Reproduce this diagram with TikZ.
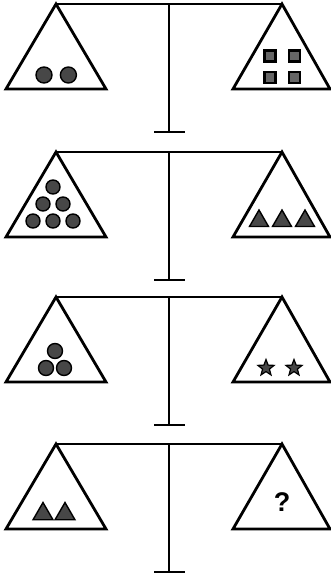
\documentclass[tikz,border=0pt]{standalone}
\usepackage{fontspec}
\setsansfont{Liberation Sans}
\usetikzlibrary{shapes.geometric,positioning}
\tikzset{
  beam/.style={line width=2.8pt},
  pan/.style={line width=2.8pt,line join=miter},
  ball/.style={circle,draw=black,line width=1.4pt,fill=black!72,inner sep=0pt,minimum size=15pt},
  block/.style={rectangle,draw=black,line width=2.2pt,fill=black!60,inner sep=0pt,minimum size=11pt},
  pyr/.style={regular polygon,regular polygon sides=3,draw=black,line width=1.4pt,fill=black!72,
              inner sep=0pt,minimum size=22pt},
  starry/.style={draw=black,line width=1.2pt,line join=miter,fill=black!72},
  mark text/.style={font=\sffamily\bfseries,scale=2.7},
}
\begin{document}
\begin{tikzpicture}[x=1pt,y=-1pt]
\useasboundingbox (0,0) rectangle (331,574);
% the four scales
\foreach \s/\y in {1/4,2/152,3/297,4/444}{
  \coordinate (l\s) at (56,\y);
  \coordinate (r\s) at (282,\y);
  \coordinate (p\s) at (169,\y);
  \draw[beam] (l\s) -- (r\s);
  \draw[pan] (l\s) -- ++(-50,85) -- ++(100,0) -- cycle;
  \draw[pan] (r\s) -- ++(-49,85) -- ++(97,0) -- cycle;
  \draw[beam] (p\s) -- ++(0,128) coordinate (f\s);
  \draw[beam] ([xshift=-15pt]f\s) -- ([xshift=16pt]f\s);
}
% scale 1
\node[ball,minimum size=16pt] (a1) at (44,75) {};
\node[ball,minimum size=16pt,right=7pt of a1] (a2) {};
\node[block] (q1) at (270,56) {};
\node[block,right=11pt of q1] (q2) {};
\node[block,below=8pt of q1] (q3) {};
\node[block,right=11pt of q3] (q4) {};
% scale 2
\node[ball,minimum size=14pt] (b1) at (53,187) {};
\node[ball,minimum size=14pt] (b2) at (43,204) {};
\node[ball,minimum size=14pt] (b3) at (63,204) {};
\node[ball,minimum size=14pt] (b4) at (33,221) {};
\node[ball,minimum size=14pt] (b5) at (53,221) {};
\node[ball,minimum size=14pt] (b6) at (73,221) {};
\node[pyr] (t1) at (259,221) {};
\node[pyr] (t2) at (282,221) {};
\node[pyr] (t3) at (305,221) {};
% scale 3
\node[ball] (c1) at (55,351) {};
\node[ball] (c2) at (46,368) {};
\node[ball] (c3) at (64,368) {};
\coordinate (s1) at (266,368);
\coordinate (s2) at (294,368);
\foreach \c in {s1,s2}
  \draw[starry,shift={(\c)}] (-90:8.5) -- (-54:3.6) -- (-18:8.5) -- (18:3.6) -- (54:8.5)
    -- (90:3.6) -- (126:8.5) -- (162:3.6) -- (198:8.5) -- (234:3.6) -- cycle;
% scale 4
\node[pyr,minimum size=23pt] (u1) at (43,514) {};
\node[pyr,minimum size=23pt] (u2) at (65,514) {};
\node[mark text] (qm) at (282,502) {?};
\end{tikzpicture}
\end{document}
